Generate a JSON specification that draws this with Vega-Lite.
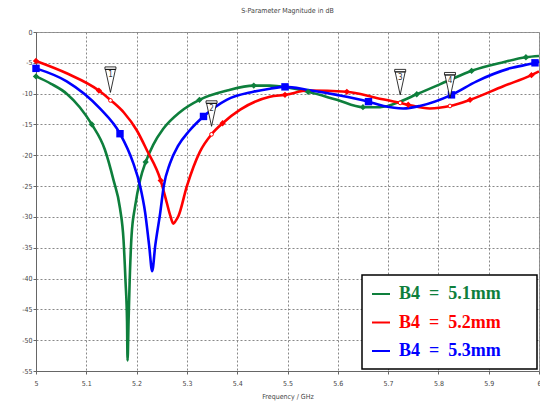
{
  "$schema": "https://vega.github.io/schema/vega-lite/v6.json",
  "width": 503,
  "height": 339,
  "autosize": {"type": "none"},
  "padding": {"left": 36, "top": 32, "right": 1, "bottom": 33},
  "background": "white",
  "title": {
    "text": "S-Parameter Magnitude in dB",
    "fontSize": 7,
    "font": "Liberation Sans Narrow, DejaVu Sans Condensed, sans-serif",
    "fontWeight": "normal",
    "color": "#444",
    "anchor": "middle",
    "baseline": "bottom",
    "offset": 7
  },
  "config": {
    "view": {"stroke": "#999", "strokeWidth": 1},
    "legend": {"strokeWidth": 1.5},
    "axis": {
      "labelFont": "Liberation Sans Narrow, DejaVu Sans Condensed, sans-serif",
      "labelFontSize": 7,
      "labelColor": "#444",
      "titleFont": "Liberation Sans Narrow, DejaVu Sans Condensed, sans-serif",
      "titleFontSize": 7,
      "titleFontWeight": "normal",
      "titleColor": "#444",
      "domainColor": "#666",
      "tickColor": "#666",
      "tickSize": 3,
      "gridColor": "#888",
      "gridDash": [2, 2],
      "gridOpacity": 1
    }
  },
  "datasets": {
    "curves": [
      {"s": "B4\u00a0\u00a0=\u00a0\u00a05.1mm", "f": 5.000, "db": -7.2},
      {"s": "B4\u00a0\u00a0=\u00a0\u00a05.1mm", "f": 5.030, "db": -8.4},
      {"s": "B4\u00a0\u00a0=\u00a0\u00a05.1mm", "f": 5.061, "db": -10.0},
      {"s": "B4\u00a0\u00a0=\u00a0\u00a05.1mm", "f": 5.087, "db": -12.2},
      {"s": "B4\u00a0\u00a0=\u00a0\u00a05.1mm", "f": 5.111, "db": -15.0},
      {"s": "B4\u00a0\u00a0=\u00a0\u00a05.1mm", "f": 5.137, "db": -19.1},
      {"s": "B4\u00a0\u00a0=\u00a0\u00a05.1mm", "f": 5.154, "db": -24.0},
      {"s": "B4\u00a0\u00a0=\u00a0\u00a05.1mm", "f": 5.167, "db": -28.6},
      {"s": "B4\u00a0\u00a0=\u00a0\u00a05.1mm", "f": 5.174, "db": -33.7},
      {"s": "B4\u00a0\u00a0=\u00a0\u00a05.1mm", "f": 5.178, "db": -40.5},
      {"s": "B4\u00a0\u00a0=\u00a0\u00a05.1mm", "f": 5.181, "db": -47.0},
      {"s": "B4\u00a0\u00a0=\u00a0\u00a05.1mm", "f": 5.182, "db": -53.3},
      {"s": "B4\u00a0\u00a0=\u00a0\u00a05.1mm", "f": 5.184, "db": -47.0},
      {"s": "B4\u00a0\u00a0=\u00a0\u00a05.1mm", "f": 5.186, "db": -41.0},
      {"s": "B4\u00a0\u00a0=\u00a0\u00a05.1mm", "f": 5.190, "db": -33.0},
      {"s": "B4\u00a0\u00a0=\u00a0\u00a05.1mm", "f": 5.197, "db": -28.3},
      {"s": "B4\u00a0\u00a0=\u00a0\u00a05.1mm", "f": 5.207, "db": -24.0},
      {"s": "B4\u00a0\u00a0=\u00a0\u00a05.1mm", "f": 5.218, "db": -21.1},
      {"s": "B4\u00a0\u00a0=\u00a0\u00a05.1mm", "f": 5.233, "db": -18.3},
      {"s": "B4\u00a0\u00a0=\u00a0\u00a05.1mm", "f": 5.253, "db": -15.7},
      {"s": "B4\u00a0\u00a0=\u00a0\u00a05.1mm", "f": 5.286, "db": -13.0},
      {"s": "B4\u00a0\u00a0=\u00a0\u00a05.1mm", "f": 5.325, "db": -11.0},
      {"s": "B4\u00a0\u00a0=\u00a0\u00a05.1mm", "f": 5.380, "db": -9.5},
      {"s": "B4\u00a0\u00a0=\u00a0\u00a05.1mm", "f": 5.433, "db": -8.7},
      {"s": "B4\u00a0\u00a0=\u00a0\u00a05.1mm", "f": 5.465, "db": -8.7},
      {"s": "B4\u00a0\u00a0=\u00a0\u00a05.1mm", "f": 5.500, "db": -9.0},
      {"s": "B4\u00a0\u00a0=\u00a0\u00a05.1mm", "f": 5.541, "db": -9.7},
      {"s": "B4\u00a0\u00a0=\u00a0\u00a05.1mm", "f": 5.598, "db": -11.0},
      {"s": "B4\u00a0\u00a0=\u00a0\u00a05.1mm", "f": 5.650, "db": -12.2},
      {"s": "B4\u00a0\u00a0=\u00a0\u00a05.1mm", "f": 5.684, "db": -12.2},
      {"s": "B4\u00a0\u00a0=\u00a0\u00a05.1mm", "f": 5.724, "db": -11.3},
      {"s": "B4\u00a0\u00a0=\u00a0\u00a05.1mm", "f": 5.757, "db": -10.1},
      {"s": "B4\u00a0\u00a0=\u00a0\u00a05.1mm", "f": 5.817, "db": -8.0},
      {"s": "B4\u00a0\u00a0=\u00a0\u00a05.1mm", "f": 5.866, "db": -6.3},
      {"s": "B4\u00a0\u00a0=\u00a0\u00a05.1mm", "f": 5.929, "db": -4.9},
      {"s": "B4\u00a0\u00a0=\u00a0\u00a05.1mm", "f": 5.974, "db": -4.1},
      {"s": "B4\u00a0\u00a0=\u00a0\u00a05.1mm", "f": 6.000, "db": -3.9},

      {"s": "B4\u00a0\u00a0=\u00a0\u00a05.2mm", "f": 5.000, "db": -4.7},
      {"s": "B4\u00a0\u00a0=\u00a0\u00a05.2mm", "f": 5.061, "db": -6.7},
      {"s": "B4\u00a0\u00a0=\u00a0\u00a05.2mm", "f": 5.125, "db": -9.5},
      {"s": "B4\u00a0\u00a0=\u00a0\u00a05.2mm", "f": 5.149, "db": -11.1},
      {"s": "B4\u00a0\u00a0=\u00a0\u00a05.2mm", "f": 5.175, "db": -13.1},
      {"s": "B4\u00a0\u00a0=\u00a0\u00a05.2mm", "f": 5.200, "db": -15.9},
      {"s": "B4\u00a0\u00a0=\u00a0\u00a05.2mm", "f": 5.220, "db": -19.1},
      {"s": "B4\u00a0\u00a0=\u00a0\u00a05.2mm", "f": 5.248, "db": -24.1},
      {"s": "B4\u00a0\u00a0=\u00a0\u00a05.2mm", "f": 5.260, "db": -27.7},
      {"s": "B4\u00a0\u00a0=\u00a0\u00a05.2mm", "f": 5.267, "db": -29.8},
      {"s": "B4\u00a0\u00a0=\u00a0\u00a05.2mm", "f": 5.273, "db": -31.1},
      {"s": "B4\u00a0\u00a0=\u00a0\u00a05.2mm", "f": 5.278, "db": -30.6},
      {"s": "B4\u00a0\u00a0=\u00a0\u00a05.2mm", "f": 5.283, "db": -29.9},
      {"s": "B4\u00a0\u00a0=\u00a0\u00a05.2mm", "f": 5.300, "db": -25.0},
      {"s": "B4\u00a0\u00a0=\u00a0\u00a05.2mm", "f": 5.326, "db": -19.4},
      {"s": "B4\u00a0\u00a0=\u00a0\u00a05.2mm", "f": 5.349, "db": -16.6},
      {"s": "B4\u00a0\u00a0=\u00a0\u00a05.2mm", "f": 5.371, "db": -14.8},
      {"s": "B4\u00a0\u00a0=\u00a0\u00a05.2mm", "f": 5.406, "db": -12.6},
      {"s": "B4\u00a0\u00a0=\u00a0\u00a05.2mm", "f": 5.465, "db": -10.5},
      {"s": "B4\u00a0\u00a0=\u00a0\u00a05.2mm", "f": 5.495, "db": -10.2},
      {"s": "B4\u00a0\u00a0=\u00a0\u00a05.2mm", "f": 5.541, "db": -9.5},
      {"s": "B4\u00a0\u00a0=\u00a0\u00a05.2mm", "f": 5.618, "db": -9.7},
      {"s": "B4\u00a0\u00a0=\u00a0\u00a05.2mm", "f": 5.677, "db": -10.7},
      {"s": "B4\u00a0\u00a0=\u00a0\u00a05.2mm", "f": 5.724, "db": -11.5},
      {"s": "B4\u00a0\u00a0=\u00a0\u00a05.2mm", "f": 5.740, "db": -11.8},
      {"s": "B4\u00a0\u00a0=\u00a0\u00a05.2mm", "f": 5.783, "db": -12.4},
      {"s": "B4\u00a0\u00a0=\u00a0\u00a05.2mm", "f": 5.823, "db": -12.0},
      {"s": "B4\u00a0\u00a0=\u00a0\u00a05.2mm", "f": 5.863, "db": -11.0},
      {"s": "B4\u00a0\u00a0=\u00a0\u00a05.2mm", "f": 5.929, "db": -8.8},
      {"s": "B4\u00a0\u00a0=\u00a0\u00a05.2mm", "f": 5.985, "db": -7.0},
      {"s": "B4\u00a0\u00a0=\u00a0\u00a05.2mm", "f": 6.000, "db": -6.4},

      {"s": "B4\u00a0\u00a0=\u00a0\u00a05.3mm", "f": 5.000, "db": -5.9},
      {"s": "B4\u00a0\u00a0=\u00a0\u00a05.3mm", "f": 5.061, "db": -8.0},
      {"s": "B4\u00a0\u00a0=\u00a0\u00a05.3mm", "f": 5.127, "db": -12.4},
      {"s": "B4\u00a0\u00a0=\u00a0\u00a05.3mm", "f": 5.167, "db": -16.5},
      {"s": "B4\u00a0\u00a0=\u00a0\u00a05.3mm", "f": 5.193, "db": -21.2},
      {"s": "B4\u00a0\u00a0=\u00a0\u00a05.3mm", "f": 5.207, "db": -25.0},
      {"s": "B4\u00a0\u00a0=\u00a0\u00a05.3mm", "f": 5.217, "db": -29.3},
      {"s": "B4\u00a0\u00a0=\u00a0\u00a05.3mm", "f": 5.225, "db": -34.7},
      {"s": "B4\u00a0\u00a0=\u00a0\u00a05.3mm", "f": 5.231, "db": -38.8},
      {"s": "B4\u00a0\u00a0=\u00a0\u00a05.3mm", "f": 5.237, "db": -34.7},
      {"s": "B4\u00a0\u00a0=\u00a0\u00a05.3mm", "f": 5.247, "db": -29.3},
      {"s": "B4\u00a0\u00a0=\u00a0\u00a05.3mm", "f": 5.254, "db": -25.0},
      {"s": "B4\u00a0\u00a0=\u00a0\u00a05.3mm", "f": 5.266, "db": -21.4},
      {"s": "B4\u00a0\u00a0=\u00a0\u00a05.3mm", "f": 5.283, "db": -18.4},
      {"s": "B4\u00a0\u00a0=\u00a0\u00a05.3mm", "f": 5.304, "db": -16.1},
      {"s": "B4\u00a0\u00a0=\u00a0\u00a05.3mm", "f": 5.333, "db": -13.7},
      {"s": "B4\u00a0\u00a0=\u00a0\u00a05.3mm", "f": 5.379, "db": -11.0},
      {"s": "B4\u00a0\u00a0=\u00a0\u00a05.3mm", "f": 5.432, "db": -9.7},
      {"s": "B4\u00a0\u00a0=\u00a0\u00a05.3mm", "f": 5.465, "db": -9.2},
      {"s": "B4\u00a0\u00a0=\u00a0\u00a05.3mm", "f": 5.495, "db": -8.9},
      {"s": "B4\u00a0\u00a0=\u00a0\u00a05.3mm", "f": 5.541, "db": -9.4},
      {"s": "B4\u00a0\u00a0=\u00a0\u00a05.3mm", "f": 5.598, "db": -10.2},
      {"s": "B4\u00a0\u00a0=\u00a0\u00a05.3mm", "f": 5.661, "db": -11.3},
      {"s": "B4\u00a0\u00a0=\u00a0\u00a05.3mm", "f": 5.691, "db": -12.0},
      {"s": "B4\u00a0\u00a0=\u00a0\u00a05.3mm", "f": 5.730, "db": -12.4},
      {"s": "B4\u00a0\u00a0=\u00a0\u00a05.3mm", "f": 5.763, "db": -12.0},
      {"s": "B4\u00a0\u00a0=\u00a0\u00a05.3mm", "f": 5.826, "db": -10.2},
      {"s": "B4\u00a0\u00a0=\u00a0\u00a05.3mm", "f": 5.876, "db": -8.0},
      {"s": "B4\u00a0\u00a0=\u00a0\u00a05.3mm", "f": 5.942, "db": -5.9},
      {"s": "B4\u00a0\u00a0=\u00a0\u00a05.3mm", "f": 5.992, "db": -5.0},
      {"s": "B4\u00a0\u00a0=\u00a0\u00a05.3mm", "f": 6.000, "db": -4.8}
    ],
    "symbols": [
      {"s": "B4\u00a0\u00a0=\u00a0\u00a05.1mm", "f": 5.000, "db": -7.2},
      {"s": "B4\u00a0\u00a0=\u00a0\u00a05.1mm", "f": 5.111, "db": -15.0},
      {"s": "B4\u00a0\u00a0=\u00a0\u00a05.1mm", "f": 5.218, "db": -21.1},
      {"s": "B4\u00a0\u00a0=\u00a0\u00a05.1mm", "f": 5.325, "db": -11.0},
      {"s": "B4\u00a0\u00a0=\u00a0\u00a05.1mm", "f": 5.433, "db": -8.7},
      {"s": "B4\u00a0\u00a0=\u00a0\u00a05.1mm", "f": 5.541, "db": -9.7},
      {"s": "B4\u00a0\u00a0=\u00a0\u00a05.1mm", "f": 5.650, "db": -12.2},
      {"s": "B4\u00a0\u00a0=\u00a0\u00a05.1mm", "f": 5.757, "db": -10.1},
      {"s": "B4\u00a0\u00a0=\u00a0\u00a05.1mm", "f": 5.866, "db": -6.3},
      {"s": "B4\u00a0\u00a0=\u00a0\u00a05.1mm", "f": 5.974, "db": -4.1},
      {"s": "B4\u00a0\u00a0=\u00a0\u00a05.2mm", "f": 5.000, "db": -4.7},
      {"s": "B4\u00a0\u00a0=\u00a0\u00a05.2mm", "f": 5.125, "db": -9.5},
      {"s": "B4\u00a0\u00a0=\u00a0\u00a05.2mm", "f": 5.248, "db": -24.1},
      {"s": "B4\u00a0\u00a0=\u00a0\u00a05.2mm", "f": 5.371, "db": -14.8},
      {"s": "B4\u00a0\u00a0=\u00a0\u00a05.2mm", "f": 5.495, "db": -10.2},
      {"s": "B4\u00a0\u00a0=\u00a0\u00a05.2mm", "f": 5.618, "db": -9.7},
      {"s": "B4\u00a0\u00a0=\u00a0\u00a05.2mm", "f": 5.740, "db": -11.8},
      {"s": "B4\u00a0\u00a0=\u00a0\u00a05.2mm", "f": 5.863, "db": -11.0},
      {"s": "B4\u00a0\u00a0=\u00a0\u00a05.2mm", "f": 5.985, "db": -7.0}
    ],
    "squares": [
      {"s": "B4\u00a0\u00a0=\u00a0\u00a05.3mm", "f": 5.000, "db": -5.9},
      {"s": "B4\u00a0\u00a0=\u00a0\u00a05.3mm", "f": 5.167, "db": -16.5},
      {"s": "B4\u00a0\u00a0=\u00a0\u00a05.3mm", "f": 5.333, "db": -13.7},
      {"s": "B4\u00a0\u00a0=\u00a0\u00a05.3mm", "f": 5.495, "db": -8.9},
      {"s": "B4\u00a0\u00a0=\u00a0\u00a05.3mm", "f": 5.661, "db": -11.3},
      {"s": "B4\u00a0\u00a0=\u00a0\u00a05.3mm", "f": 5.826, "db": -10.2},
      {"s": "B4\u00a0\u00a0=\u00a0\u00a05.3mm", "f": 5.992, "db": -5.0}
    ],
    "probes": [
      {"n": "1", "f": 5.148, "db": -11.1},
      {"n": "2", "f": 5.349, "db": -16.6},
      {"n": "3", "f": 5.724, "db": -11.5},
      {"n": "4", "f": 5.823, "db": -12.0}
    ]
  },
  "encoding": {
    "x": {
      "field": "f", "type": "quantitative",
      "scale": {"domain": [5, 6], "nice": false, "zero": false},
      "axis": {
        "values": [5, 5.1, 5.2, 5.3, 5.4, 5.5, 5.6, 5.7, 5.8, 5.9, 6],
        "labelExpr": "'' + datum.value",
        "title": "Frequency / GHz",
        "labelPadding": 5,
        "titlePadding": 6,
        "labelFlush": false
      }
    },
    "y": {
      "field": "db", "type": "quantitative",
      "scale": {"domain": [-55, 0], "nice": false, "zero": false},
      "axis": {
        "values": [0, -5, -10, -15, -20, -25, -30, -35, -40, -45, -50, -55],
        "labelExpr": "'' + datum.value",
        "title": null,
        "labelPadding": 1
      }
    }
  },
  "layer": [
    {
      "data": {"name": "curves"},
      "mark": {"type": "line", "strokeWidth": 2.6, "interpolate": "monotone"},
      "encoding": {
        "color": {
          "field": "s", "type": "nominal",
          "scale": {
            "domain": ["B4\u00a0\u00a0=\u00a0\u00a05.1mm", "B4\u00a0\u00a0=\u00a0\u00a05.2mm", "B4\u00a0\u00a0=\u00a0\u00a05.3mm"],
            "range": ["#0e7f3c", "#ff0000", "#0000ff"]
          },
          "legend": {
            "title": null,
            "orient": "none",
            "legendX": 326,
            "legendY": 243,
            "fillColor": "white",
            "strokeColor": "black",
            "padding": 9,
            "symbolType": "stroke",
            "symbolSize": 324,
            "symbolStrokeWidth": 2,
            "labelFont": "Liberation Serif",
            "labelFontSize": 18,
            "labelFontWeight": "bold",
            "labelOffset": 8,
            "labelLimit": 400,
            "rowPadding": 9.5,
            "encode": {
              "labels": {
                "update": {
                  "fill": {"scale": "color", "field": "value"},
                  "text": {"signal": "datum.label + '\u00a0\u00a0\u00a0\u00a0\u00a0\u00a0\u200b'"}
                }
              }
            }
          }
        }
      }
    },
    {
      "data": {"name": "symbols"},
      "mark": {"type": "point", "shape": "diamond", "filled": true, "size": 40, "opacity": 1},
      "encoding": {
        "color": {"field": "s", "type": "nominal", "legend": null}
      }
    },
    {
      "data": {"name": "squares"},
      "mark": {"type": "point", "shape": "square", "filled": true, "size": 55, "opacity": 1},
      "encoding": {
        "color": {"field": "s", "type": "nominal", "legend": null}
      }
    },
    {
      "data": {"name": "probes"},
      "mark": {"type": "point", "shape": "circle", "filled": true, "fill": "white", "stroke": "#ff0000", "strokeWidth": 1, "size": 14, "opacity": 1}
    },
    {
      "data": {"name": "probes"},
      "mark": {
        "type": "point",
        "shape": "M -0.55 -3.35 L 0.55 -3.35 L 0.55 -3.1 L -0.55 -3.1 Z M -0.5 -3.1 L 0.5 -3.1 L 0 -0.8 Z",
        "filled": true, "fill": "white", "stroke": "black", "strokeWidth": 0.8, "size": 400, "opacity": 1
      }
    },
    {
      "data": {"name": "probes"},
      "mark": {"type": "text", "dy": -25, "fontSize": 8, "font": "Liberation Sans Narrow, DejaVu Sans Condensed, sans-serif", "color": "#333", "baseline": "middle"},
      "encoding": {"text": {"field": "n"}}
    }
  ]
}
